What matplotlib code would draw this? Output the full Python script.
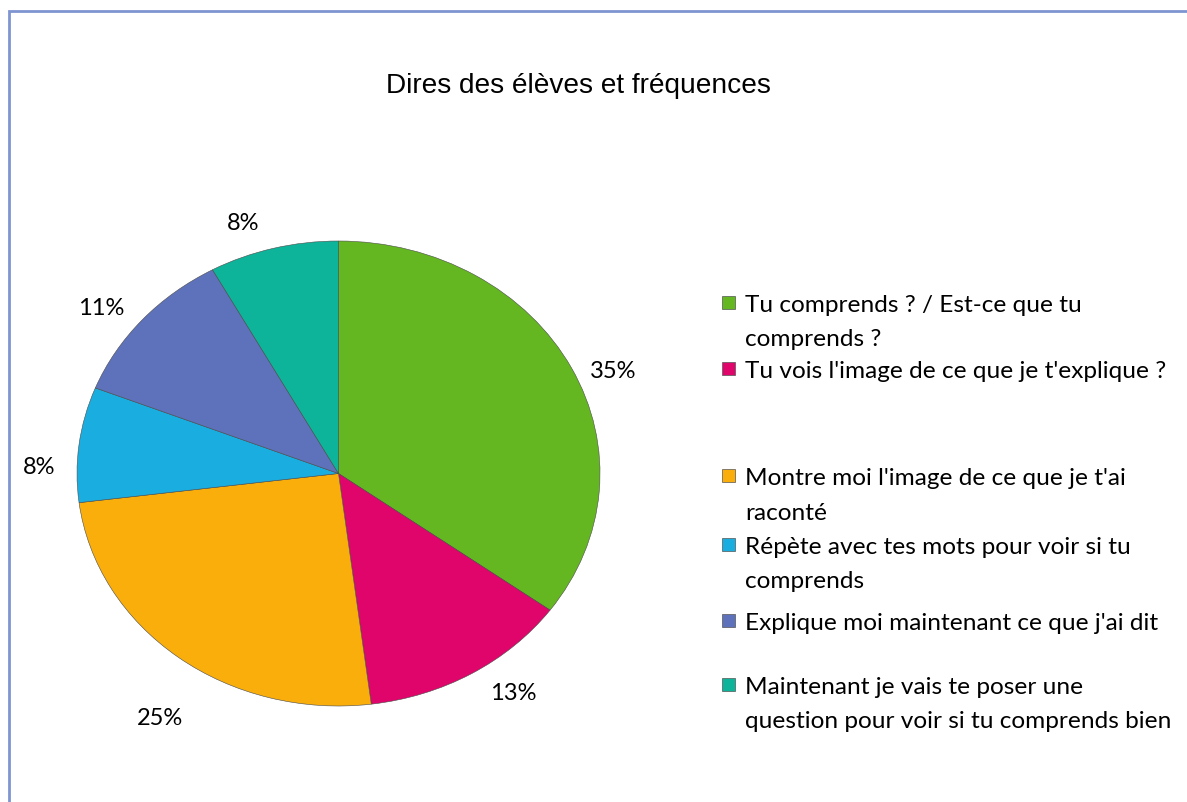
import matplotlib.pyplot as plt
from matplotlib.patches import Rectangle

plt.rcParams['font.family'] = ['Lato', 'DejaVu Sans']

labels = [
    "Tu comprends ? / Est-ce que tu\ncomprends ?",
    "Tu vois l'image de ce que je t'explique ?",
    "Montre moi l'image de ce que je t'ai\nraconté",
    "Répète avec tes mots pour voir si tu\ncomprends",
    "Explique moi maintenant ce que j'ai dit",
    "Maintenant je vais te poser une\nquestion pour voir si tu comprends bien",
]
values = [35, 13, 25, 8, 11, 8]
colors = ["#64B720", "#E0056A", "#F9AE0C", "#1AAEE0", "#5E72BC", "#0EB49A"]
# legend rows (centre of first line, pixels from top)
legend_rows = [304, 370, 477, 546, 622, 686]
# nudges of the percent labels (pixels, x right / y down)
label_nudge = [(4, 19), (20, -13), (7, 31), (2, 27), (-10, 12), (-20, 10)]

W, H = 1187, 803
fig = plt.figure(figsize=(W / 100, H / 100), dpi=100)

# outer frame (only top and left visible in original)
fig.add_artist(Rectangle((9 / W, 1 - 1200 / H), 1.5, 1188 / H, transform=fig.transFigure,
                         fill=False, ec="#7F95D2", lw=2))

fig.text(578 / W, 1 - 86 / H, "Dires des élèves et fréquences", ha="center", va="center",
         fontsize=20.2, family=["Liberation Sans", "DejaVu Sans"])

# elliptical pie (slight 3D tilt in original)
pw, ph = 523, 465
ax = fig.add_axes([77 / W, 1 - 707 / H, pw / W, ph / H])
wedges, texts = ax.pie(values, colors=colors, startangle=90, counterclock=False,
                       labels=[f"{v}%" for v in values], labeldistance=1.16,
                       wedgeprops=dict(ec="#4a4a4a", lw=0.4),
                       textprops=dict(fontsize=17))
ax.set_aspect("auto")
ax.set_xlim(-1, 1)
ax.set_ylim(-1, 1)
for t, (dx, dy) in zip(texts, label_nudge):
    x, y = t.get_position()
    t.set_position((x + dx * 2 / pw, y - dy * 2 / ph))
    t.set_ha("center")
    t.set_va("center")

# legend drawn entry by entry to keep original spacing
for lab, col, y in zip(labels, colors, legend_rows):
    fig.add_artist(Rectangle((722 / W, 1 - (y + 6) / H), 13 / W, 13 / H,
                             transform=fig.transFigure, fc=col, ec="#555555", lw=0.5))
    for i, line in enumerate(lab.split("\n")):
        fig.text(745 / W, 1 - (y + i * 34) / H, line, ha="left", va="center_baseline",
                 fontsize=17.6)

fig.savefig("out.png", dpi=100)
